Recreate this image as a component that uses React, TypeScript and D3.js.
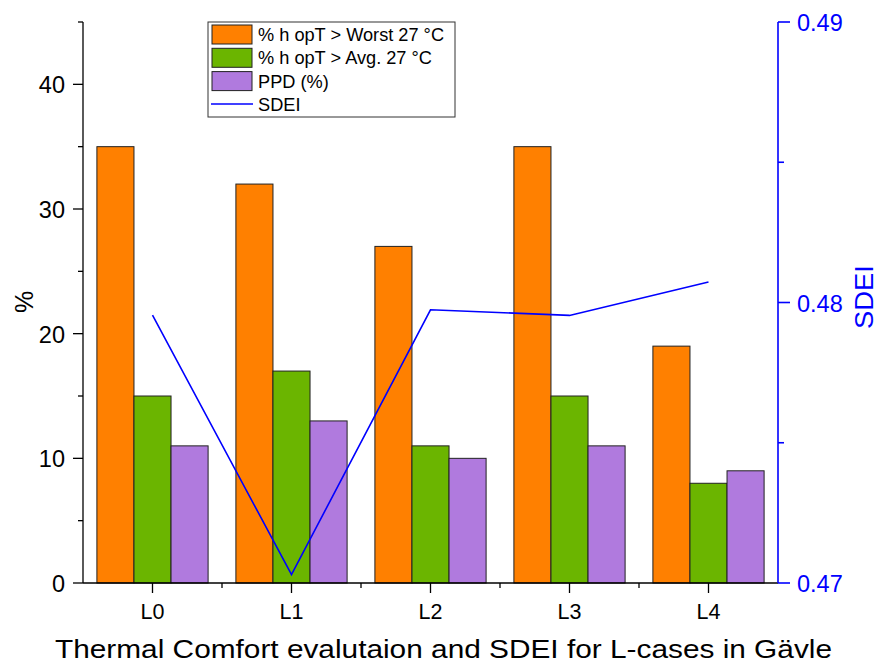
import React from "react";
import * as d3 from "d3";

const categories = ["L0", "L1", "L2", "L3", "L4"];
const worstValues = [35, 32, 27, 35, 19];
const avgValues = [15, 17, 11, 15, 8];
const ppdValues = [11, 13, 10, 11, 9];
const sdeiValues = [0.47955, 0.4703, 0.47974, 0.47954, 0.48073];
const leftTicks = [0, 10, 20, 30, 40];
const leftMinor = [5, 15, 25, 35, 45];
const rightTicks = [0.47, 0.48, 0.49];
const rightMinor = [0.475, 0.485];
const seriesNames = ["% h opT > Worst 27 °C", "% h opT > Avg. 27 °C", "PPD (%)"];
const seriesColors = ["#FF8000", "#6BB500", "#B07ADE"];

const W = 878, H = 664;
const L = 83, R = 778, T = 22, B = 583;
const font = "Arial, 'Liberation Sans', sans-serif";

export default function App() {
  const x = d3.scaleBand<string>().domain(categories).range([L, R]).paddingInner(0).paddingOuter(0);
  const inner = d3.scaleBand<number>().domain([0, 1, 2]).range([0, x.bandwidth() * 0.8]);
  const y = d3.scaleLinear().domain([0, 45]).range([B, T]);
  const y2 = d3.scaleLinear().domain([0.47, 0.49]).range([B, T]);
  const series = [worstValues, avgValues, ppdValues];
  const line = d3.line<number>().x((_, i) => x(categories[i])! + x.bandwidth() / 2).y((d) => y2(d));
  const off = x.bandwidth() * 0.1;

  return (
    <svg width={W} height={H} style={{ position: "absolute", left: 0, top: 0 }} fontFamily={font}>
      <rect width={W} height={H} fill="#fff" />
      {series.map((vals, s) =>
        vals.map((v, i) => (
          <rect key={`${s}-${i}`} x={x(categories[i])! + off + inner(s)!} y={y(v)} width={inner.bandwidth()} height={B - y(v)}
            fill={seriesColors[s]} stroke="#222" strokeWidth={1} />
        ))
      )}
      <path d={line(sdeiValues)!} fill="none" stroke="#0000FF" strokeWidth={1.6} />
      {/* bottom axis */}
      <line x1={L} x2={R} y1={B} y2={B} stroke="#000" strokeWidth={1.3} />
      {categories.map((c) => {
        const cx = x(c)! + x.bandwidth() / 2;
        return (
          <g key={c}>
            <line x1={cx} x2={cx} y1={B} y2={B + 10} stroke="#000" strokeWidth={1.3} />
            <text x={cx} y={619} textAnchor="middle" fontSize={21.5} fill="#000">{c}</text>
          </g>
        );
      })}
      {categories.slice(1).map((c) => (
        <line key={"m" + c} x1={x(c)!} x2={x(c)!} y1={B} y2={B + 5} stroke="#000" strokeWidth={1.3} />
      ))}
      <text x={55} y={657.5} fontSize={25.5} textLength={777} lengthAdjust="spacingAndGlyphs" fill="#000">Thermal Comfort evalutaion and SDEI for L-cases in Gävle</text>
      {/* left axis */}
      <line x1={L} x2={L} y1={T} y2={B} stroke="#000" strokeWidth={1.3} />
      {leftTicks.map((t) => (
        <g key={t}>
          <line x1={L - 10} x2={L} y1={y(t)} y2={y(t)} stroke="#000" strokeWidth={1.3} />
          <text x={L - 18} y={y(t) + 9} textAnchor="end" fontSize={23.5} fill="#000">{t}</text>
        </g>
      ))}
      {leftMinor.map((t) => (
        <line key={t} x1={L - 5} x2={L} y1={y(t)} y2={y(t)} stroke="#000" strokeWidth={1.3} />
      ))}
      <text transform={`translate(33,${302}) rotate(-90)`} textAnchor="middle" fontSize={25} fill="#000">%</text>
      {/* right axis */}
      <line x1={R} x2={R} y1={T} y2={B} stroke="#0000FF" strokeWidth={1.6} />
      {rightTicks.map((t) => (
        <g key={t}>
          <line x1={R} x2={R + 12} y1={y2(t)} y2={y2(t)} stroke="#0000FF" strokeWidth={1.6} />
          <text x={R + 19} y={y2(t) + 9} fontSize={23.5} fill="#0000FF">{t.toFixed(2)}</text>
        </g>
      ))}
      {rightMinor.map((t) => (
        <line key={t} x1={R} x2={R + 6} y1={y2(t)} y2={y2(t)} stroke="#0000FF" strokeWidth={1.6} />
      ))}
      <text transform={`translate(873,${297}) rotate(-90)`} textAnchor="middle" fontSize={25.5} textLength={64} lengthAdjust="spacingAndGlyphs" fill="#0000FF">SDEI</text>
      {/* legend */}
      <rect x={208} y={22} width={247} height={95} fill="#fff" stroke="#333" strokeWidth={1} />
      {seriesNames.map((n, i) => (
        <g key={n}>
          <rect x={212} y={25 + i * 23.3} width={40} height={19} fill={seriesColors[i]} stroke="#222" strokeWidth={1} />
          <text x={258} y={41 + i * 23.3} fontSize={18.2} fill="#000">{n}</text>
        </g>
      ))}
      <line x1={211} x2={253} y1={104} y2={104} stroke="#0000FF" strokeWidth={1.6} />
      <text x={258} y={111} fontSize={18.2} fill="#000">SDEI</text>
    </svg>
  );
}
